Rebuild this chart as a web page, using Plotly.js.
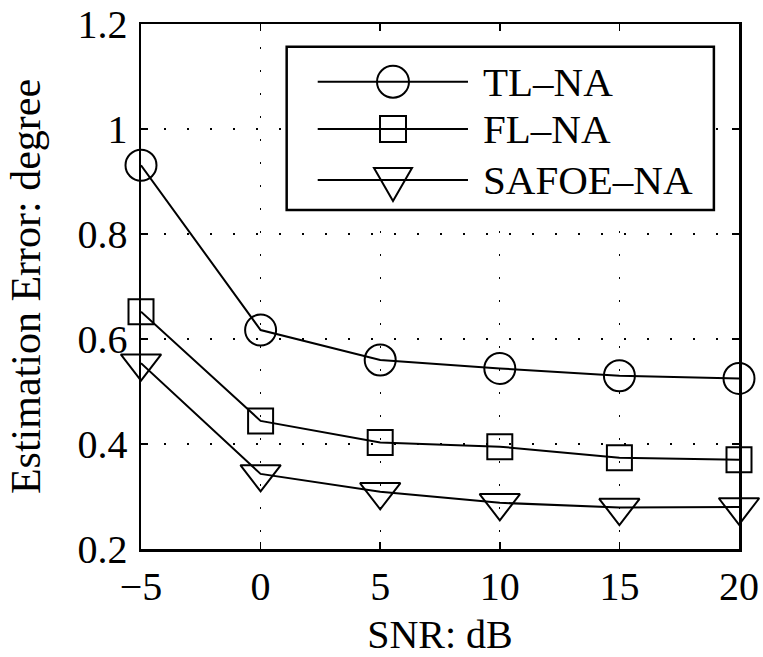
<!DOCTYPE html>
<html>
<head>
<meta charset="utf-8">
<script src="https://cdn.plot.ly/plotly-3.0.1.min.js"></script>
<style>html,body{margin:0;padding:0;background:#fff;}#chart{width:763px;height:657px;}</style>
</head>
<body>
<div id="chart"></div>
<script>
// ---- data ----
const snr = [-5, 0, 5, 10, 15, 20];
const tlNA = [0.931, 0.617, 0.560, 0.544, 0.530, 0.525];
const flNA = [0.652, 0.444, 0.403, 0.395, 0.374, 0.370];
const safoeNA = [0.554, 0.343, 0.309, 0.288, 0.279, 0.280];
const seriesNames = ['TL–NA', 'FL–NA', 'SAFOE–NA'];
const xTicks = [-5, 0, 5, 10, 15, 20];
const yTicks = [0.2, 0.4, 0.6, 0.8, 1, 1.2];
const yTickText = ['0.2', '0.4', '0.6', '0.8', '1', '1.2'];

const FONT = "'Liberation Serif', 'Times New Roman', Times, serif";

function trace(y, name, symbol, size) {
  return {
    x: snr, y: y, name: name, type: 'scatter', mode: 'lines+markers',
    line: {color: '#000', width: 2},
    marker: {symbol: symbol, size: size, color: '#000', line: {color: '#000', width: 2}},
    cliponaxis: false, showlegend: false
  };
}
const data = [
  trace(tlNA, seriesNames[0], 'circle-open', 31),
  trace(flNA, seriesNames[1], 'square-open', 25),
  trace(safoeNA, seriesNames[2], 'triangle-down-open', 35)
];

// custom legend (long sample lines as in the reference)
const legX0 = 0.2436, legX1 = 0.958, legY0 = 0.6457, legY1 = 0.9568;
const rowY = [0.890, 0.800, 0.703];
const lineX0 = 0.2955, lineX1 = 0.5468, markX = 0.4214, textX = 0.568;
const shapes = [
  {type: 'rect', xref: 'paper', yref: 'paper', x0: legX0, x1: legX1, y0: legY0, y1: legY1,
   line: {color: '#000', width: 2.5}, fillcolor: '#fff', layer: 'above'}
];
const annotations = [];
rowY.forEach((ry, i) => {
  shapes.push({type: 'line', xref: 'paper', yref: 'paper', x0: lineX0, x1: lineX1, y0: ry, y1: ry,
    line: {color: '#000', width: 2}, layer: 'above'});
  const common = {xref: 'paper', yref: 'paper', xsizemode: 'pixel', ysizemode: 'pixel',
    xanchor: markX, yanchor: ry, line: {color: '#000', width: 2}, layer: 'above'};
  if (i === 0) shapes.push(Object.assign({type: 'circle', x0: -16, x1: 16, y0: -16, y1: 16}, common));
  if (i === 1) shapes.push(Object.assign({type: 'rect', x0: -13, x1: 13, y0: -13, y1: 13}, common));
  if (i === 2) shapes.push(Object.assign({type: 'path', path: 'M-19,12 L19,12 L0,-21 Z'}, common));
  annotations.push({xref: 'paper', yref: 'paper', x: textX, y: ry, xanchor: 'left', yanchor: 'middle',
    text: seriesNames[i], showarrow: false, font: {family: FONT, size: 41, color: '#000'}});
});

const axisCommon = {
  showline: true, linecolor: '#000', linewidth: 2.5, mirror: 'ticks',
  ticks: 'inside', ticklen: 7, tickwidth: 1.5, tickcolor: '#000',
  showgrid: true, gridcolor: '#000', gridwidth: 1.3, griddash: '2px,21px',
  zeroline: false, tickfont: {family: FONT, size: 40, color: '#000'}
};

const layout = {
  width: 763, height: 657,
  margin: {l: 141, r: 24, t: 24, b: 108, autoexpand: false},
  paper_bgcolor: '#fff', plot_bgcolor: '#fff',
  font: {family: FONT, color: '#000'},
  xaxis: Object.assign({}, axisCommon, {
    range: [-5, 20], tickmode: 'array', tickvals: xTicks,
    ticklabelstandoff: 0,
    title: {text: 'SNR: dB', font: {family: FONT, size: 40, color: '#000'}, standoff: 29}
  }),
  yaxis: Object.assign({}, axisCommon, {
    range: [0.2, 1.2], tickmode: 'array', tickvals: yTicks, ticktext: yTickText,
    ticklabelstandoff: 3,
    title: {text: 'Estimation Error: degree', font: {family: FONT, size: 42, color: '#000'}, standoff: 24}
  }),
  shapes: shapes,
  annotations: annotations,
  showlegend: false
};

Plotly.newPlot('chart', data, layout, {displayModeBar: false, staticPlot: true});
</script>
</body>
</html>
